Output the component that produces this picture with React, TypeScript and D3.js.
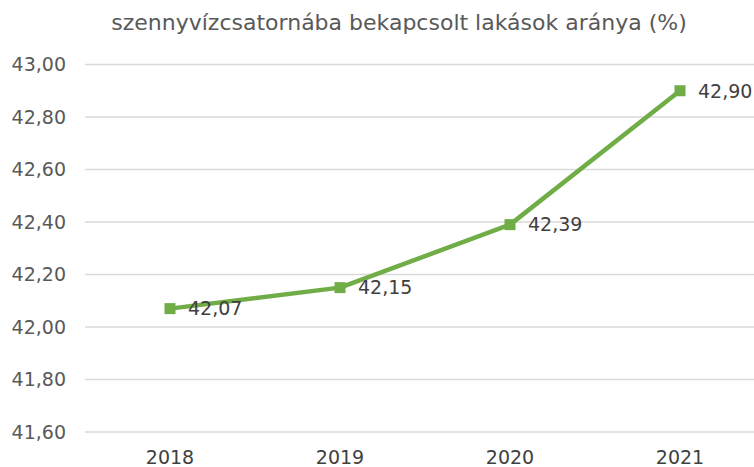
import * as d3 from 'd3'
import { useEffect, useRef } from 'react'

const years = ['2018', '2019', '2020', '2021']
const values = [42.07, 42.15, 42.39, 42.9]
const yTicks = [41.6, 41.8, 42.0, 42.2, 42.4, 42.6, 42.8, 43.0]
const title = 'szennyvízcsatornába bekapcsolt lakások aránya (%)'

const fmt = (v: number) => v.toFixed(2).replace('.', ',')

export default function App() {
  const svgRef = useRef<SVGSVGElement>(null)
  const width = 754, height = 467

  useEffect(() => {
    const svg = d3.select(svgRef.current)
    svg.selectAll('*').remove()

    const x = d3.scaleBand().domain(years).range([85, 765])
    const y = d3.scaleLinear().domain([41.6, 43.0]).range([432, 64.5])
    const font = 'DejaVu Sans, Verdana, sans-serif'

    svg.append('text')
      .attr('x', 399).attr('y', 30)
      .attr('text-anchor', 'middle')
      .attr('fill', '#595959')
      .style('font', `22px ${font}`)
      .text(title)

    // grid
    svg.append('g').selectAll('line')
      .data(yTicks)
      .join('line')
        .attr('x1', 85).attr('x2', width)
        .attr('y1', d => y(d)).attr('y2', d => y(d))
        .attr('stroke', '#d9d9d9')
        .attr('stroke-width', 1.5)

    svg.append('g').selectAll('text')
      .data(yTicks)
      .join('text')
        .attr('x', 66).attr('y', d => y(d))
        .attr('dy', '0.36em')
        .attr('text-anchor', 'end')
        .attr('fill', '#595959')
        .style('font', `19px ${font}`)
        .text(d => fmt(d))

    svg.append('g').selectAll('text')
      .data(years)
      .join('text')
        .attr('x', d => x(d)! + x.bandwidth() / 2)
        .attr('y', 464)
        .attr('text-anchor', 'middle')
        .attr('fill', '#404040')
        .style('font', `19px ${font}`)
        .text(d => d)

    const line = d3.line<number>()
      .x((d, i) => x(years[i])! + x.bandwidth() / 2)
      .y(d => y(d))

    svg.append('path')
      .datum(values)
      .attr('d', line)
      .attr('fill', 'none')
      .attr('stroke', '#70ad47')
      .attr('stroke-width', 4.5)
      .attr('stroke-linejoin', 'round')

    svg.append('g').selectAll('rect')
      .data(values)
      .join('rect')
        .attr('x', (d, i) => x(years[i])! + x.bandwidth() / 2 - 5.5)
        .attr('y', d => y(d) - 5.5)
        .attr('width', 11).attr('height', 11)
        .attr('fill', '#70ad47')

    svg.append('g').selectAll('text')
      .data(values)
      .join('text')
        .attr('x', (d, i) => x(years[i])! + x.bandwidth() / 2 + 18)
        .attr('y', d => y(d))
        .attr('dy', '0.36em')
        .attr('fill', '#404040')
        .style('font', `19px ${font}`)
        .text(d => fmt(d))
  }, [])

  return (
    <svg ref={svgRef} width={width} height={height}
      style={{ position: 'absolute', left: 0, top: 0, background: '#fff' }} />
  )
}
